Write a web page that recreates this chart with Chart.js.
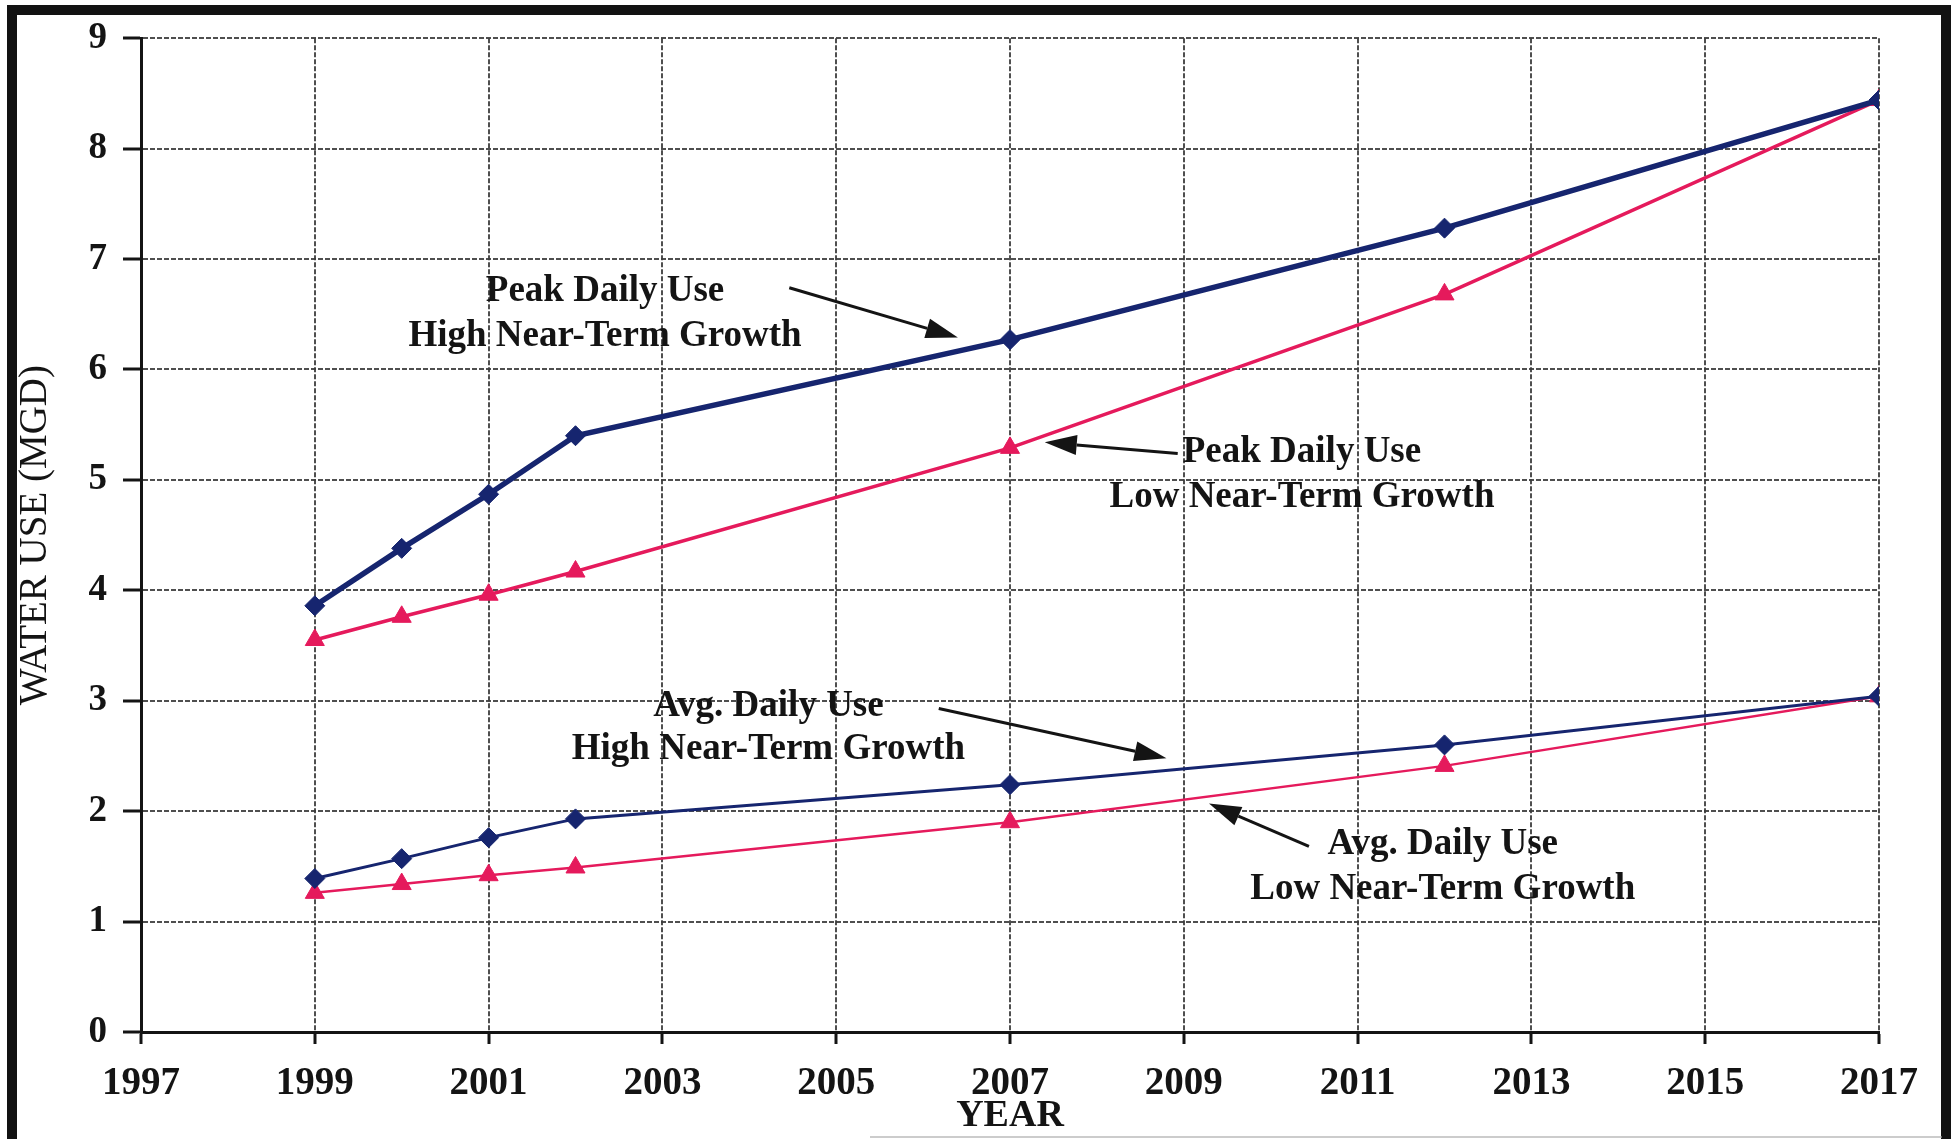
<!DOCTYPE html>
<html>
<head>
<meta charset="utf-8">
<script src="https://cdn.jsdelivr.net/npm/chart.js@4.4.0/dist/chart.umd.min.js"></script>
<style>
  html, body { margin: 0; padding: 0; background: #ffffff; }
  canvas { display: block; }
</style>
</head>
<body>
<canvas id="chart" width="1955" height="1139"></canvas>
<script>
// Projection years and water use (MGD) per scenario
const years    = [1999, 2000, 2001, 2002, 2007, 2012, 2017];
const peakHigh = [3.86, 4.38, 4.87, 5.40, 6.27, 7.28, 8.44];
const peakLow  = [3.55, 3.76, 3.96, 4.17, 5.29, 6.68, 8.44];
const avgHigh  = [1.39, 1.57, 1.76, 1.93, 2.24, 2.60, 3.04];
const avgLow   = [1.26, 1.34, 1.42, 1.49, 1.90, 2.41, 3.04];

const xTickLabels = ['1997', '1999', '2001', '2003', '2005', '2007', '2009', '2011', '2013', '2015', '2017'];
const yTickLabels = ['0', '1', '2', '3', '4', '5', '6', '7', '8', '9'];

const NAVY = '#16256f';
const PINK = '#e51a5c';
const SERIF = "'Liberation Serif', 'DejaVu Serif', serif";

// Callout labels with arrows, placed in data units (year, MGD); lines are centred on cx
const callouts = [
  { cx: 2002.34, lines: [['Peak Daily Use', 6.71], ['High Near-Term Growth', 6.30]],
    from: [2004.46, 6.74], to: [2006.40, 6.29] },
  { cx: 2010.36, lines: [['Peak Daily Use', 5.25], ['Low Near-Term Growth', 4.84]],
    from: [2008.93, 5.24], to: [2007.40, 5.34] },
  { cx: 2004.22, lines: [['Avg. Daily Use', 2.95], ['High Near-Term Growth', 2.56]],
    from: [2006.18, 2.93], to: [2008.80, 2.48] },
  { cx: 2011.98, lines: [['Avg. Daily Use', 1.70], ['Low Near-Term Growth', 1.29]],
    from: [2010.44, 1.68], to: [2009.29, 2.07] }
];

const toPoints = vals => years.map((yr, i) => ({ x: yr, y: vals[i] }));

const calloutPlugin = {
  id: 'callouts',
  afterDatasetsDraw(chart) {
    const { ctx } = chart;
    const xs = chart.scales.x, ys = chart.scales.y;
    ctx.save();
    ctx.fillStyle = '#141414';
    ctx.strokeStyle = '#141414';
    ctx.font = 'bold 37px ' + SERIF;
    ctx.textAlign = 'center';
    ctx.textBaseline = 'middle';
    callouts.forEach(c => {
      const cx = xs.getPixelForValue(c.cx);
      c.lines.forEach(([txt, v]) => {
        ctx.fillText(txt, cx, ys.getPixelForValue(v));
      });
      const x1 = xs.getPixelForValue(c.from[0]), y1 = ys.getPixelForValue(c.from[1]);
      const x2 = xs.getPixelForValue(c.to[0]),   y2 = ys.getPixelForValue(c.to[1]);
      const ang = Math.atan2(y2 - y1, x2 - x1);
      const headLen = 32, headHalf = 10;
      const bx = x2 - Math.cos(ang) * headLen, by = y2 - Math.sin(ang) * headLen;
      ctx.lineWidth = 3;
      ctx.beginPath();
      ctx.moveTo(x1, y1);
      ctx.lineTo(bx, by);
      ctx.stroke();
      ctx.beginPath();
      ctx.moveTo(x2, y2);
      ctx.lineTo(bx - Math.sin(ang) * headHalf, by + Math.cos(ang) * headHalf);
      ctx.lineTo(bx + Math.sin(ang) * headHalf, by - Math.cos(ang) * headHalf);
      ctx.closePath();
      ctx.fill();
    });
    ctx.restore();
  }
};

// Heavy page frame around the figure
const framePlugin = {
  id: 'frame',
  afterDraw(chart) {
    const { ctx, width, height } = chart;
    ctx.save();
    ctx.fillStyle = '#121212';
    ctx.fillRect(7, 5, width - 15, 10);
    ctx.fillRect(7, 5, 10, height - 5);
    ctx.fillRect(width - 14, 5, 10, height - 5);
    ctx.fillStyle = 'rgba(170,170,170,0.6)';
    ctx.fillRect(870, height - 3, width - 883, 2);
    ctx.restore();
  }
};

const gridColor = 'rgba(60,60,60,0.9)';

new Chart(document.getElementById('chart'), {
  type: 'line',
  data: {
    datasets: [
      { label: 'Peak Daily Use High Near-Term Growth', data: toPoints(peakHigh),
        borderColor: NAVY, backgroundColor: NAVY, borderWidth: 5.5,
        pointStyle: 'rectRot', pointRadius: 10, pointBorderWidth: 1, pointBorderColor: NAVY },
      { label: 'Avg. Daily Use High Near-Term Growth', data: toPoints(avgHigh),
        borderColor: NAVY, backgroundColor: NAVY, borderWidth: 3,
        pointStyle: 'rectRot', pointRadius: 10, pointBorderWidth: 1, pointBorderColor: NAVY },
      { label: 'Peak Daily Use Low Near-Term Growth', data: toPoints(peakLow),
        borderColor: PINK, backgroundColor: PINK, borderWidth: 3.5,
        pointStyle: 'triangle', pointRadius: 11, pointBorderWidth: 1, pointBorderColor: PINK },
      { label: 'Avg. Daily Use Low Near-Term Growth', data: toPoints(avgLow),
        borderColor: PINK, backgroundColor: PINK, borderWidth: 2.5,
        pointStyle: 'triangle', pointRadius: 11, pointBorderWidth: 1, pointBorderColor: PINK }
    ]
  },
  options: {
    responsive: false,
    animation: false,
    devicePixelRatio: 1,
    layout: { padding: { left: 0, top: 33, right: 76, bottom: 0 } },
    plugins: { legend: { display: false }, tooltip: { enabled: false } },
    scales: {
      x: {
        type: 'linear',
        min: 1997, max: 2017,
        afterFit(scale) { scale.height = 107; },
        afterBuildTicks(scale) {
          scale.ticks = xTickLabels.map(t => ({ value: Number(t), label: t }));
        },
        ticks: {
          autoSkip: false, maxRotation: 0,
          callback: (v, i) => xTickLabels[i],
          color: '#141414', padding: 17,
          font: { family: SERIF, size: 39, weight: 'bold' }
        },
        grid: { color: gridColor, lineWidth: 2, tickColor: '#141414', tickWidth: 3, tickLength: 12 },
        border: { display: true, color: '#141414', width: 3, dash: [5, 2] },
        title: { display: true, text: 'YEAR', color: '#141414',
                 font: { family: SERIF, size: 38, weight: 'bold' }, padding: { top: 0, bottom: 0 } }
      },
      y: {
        min: 0, max: 9,
        afterFit(scale) { scale.width = 141; },
        afterBuildTicks(scale) {
          scale.ticks = yTickLabels.map(t => ({ value: Number(t), label: t }));
        },
        ticks: {
          callback: (v, i) => yTickLabels[i],
          color: '#141414', padding: 16,
          font: { family: SERIF, size: 37, weight: 'bold' }
        },
        grid: { color: gridColor, lineWidth: 2, tickColor: '#141414', tickWidth: 3, tickLength: 18 },
        border: { display: true, color: '#141414', width: 3, dash: [5, 2] },
        title: { display: true, text: 'WATER USE (MGD)', color: '#141414',
                 font: { family: SERIF, size: 39, weight: 'normal' }, padding: { top: 12, bottom: 0 } }
      }
    }
  },
  plugins: [calloutPlugin, framePlugin]
});
</script>
</body>
</html>
